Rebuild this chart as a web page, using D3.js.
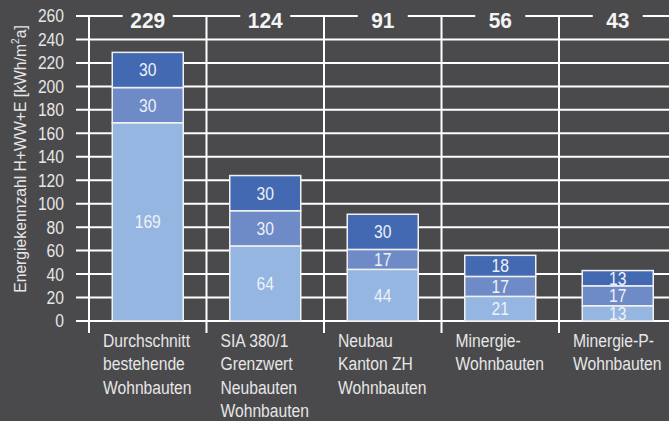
<!DOCTYPE html>
<html>
<head>
<meta charset="utf-8">
<script src="https://cdn.jsdelivr.net/npm/d3@7"></script>
<style>
  body { margin: 0; background: #4a4a4c; }
  svg { display: block; font-family: "Liberation Sans", Arial, sans-serif; }
</style>
</head>
<body>
<div class="Chart"></div>
<script>
// data
var categories = [
  ["Durchschnitt", "bestehende", "Wohnbauten"],
  ["SIA 380/1", "Grenzwert", "Neubauten", "Wohnbauten"],
  ["Neubau", "Kanton ZH", "Wohnbauten"],
  ["Minergie-", "Wohnbauten"],
  ["Minergie-P-", "Wohnbauten"]
];
var bottomValues = [169, 64, 44, 21, 13];
var middleValues = [30, 30, 17, 17, 17];
var topValues = [30, 30, 30, 18, 13];
var yTicks = [0, 20, 40, 60, 80, 100, 120, 140, 160, 180, 200, 220, 240, 260];
var segColors = ["#95b6e0", "#6e8bc7", "#4369b2"];

var width = 669, height = 421;
var bg = "#4a4a4c";
var narrow = 0.87; // fake a condensed face by squeezing Liberation Sans

function sq(px, py, k) {
  return "translate(" + px + "," + py + ") scale(" + (k || narrow) + ",1)";
}

var svg = d3.select(".Chart").append("svg")
            .attr("width", width)
            .attr("height", height);

svg.append("rect").attr("width", width).attr("height", height).attr("fill", bg);

// scales
var x = d3.scaleBand()
          .domain(d3.range(categories.length))
          .range([89, 89 + 117.5 * categories.length]);
var y = d3.scaleLinear().domain([0, 260]).range([321, 16]);

// horizontal grid lines (with ticks poking out left)
svg.append("g").selectAll("line")
   .data(yTicks).enter().append("line")
   .attr("x1", 76).attr("x2", width)
   .attr("y1", function(d){ return y(d); })
   .attr("y2", function(d){ return y(d); })
   .attr("stroke", "white").attr("stroke-width", 2);

// vertical separators
var bounds = d3.range(categories.length + 1).map(function(i){ return 89 + x.bandwidth() * i; });
svg.append("g").selectAll("line")
   .data(bounds).enter().append("line")
   .attr("x1", function(d){ return d; }).attr("x2", function(d){ return d; })
   .attr("y1", 15).attr("y2", 333)
   .attr("stroke", "white").attr("stroke-width", 2);

// y tick labels
svg.append("g").selectAll("text")
   .data(yTicks).enter().append("text")
   .attr("transform", function(d){ return sq(64, y(d)); })
   .attr("dy", "0.36em")
   .attr("text-anchor", "end")
   .attr("font-size", 18)
   .attr("fill", "#e6e6e6")
   .text(function(d){ return d; });

// y axis title
var yt = svg.append("text")
   .attr("text-anchor", "middle")
   .attr("font-size", 17)
   .attr("fill", "#e6e6e6");
yt.append("tspan").text("Energiekennzahl H+WW+E [kWh/m");
yt.append("tspan").attr("font-size", 11).attr("dy", -7).text("2");
yt.append("tspan").attr("dy", 7).text("a]");
var ytLen = yt.node().getComputedTextLength();
yt.attr("transform", "translate(26,159) rotate(-90) scale(" + (268 / ytLen) + ",1)");

// stacked bars
var stackData = categories.map(function(c, i){
  return {i: i, b: bottomValues[i], m: middleValues[i], t: topValues[i]};
});
var series = d3.stack().keys(["b", "m", "t"])(stackData);

var barW = 71;
var bars = svg.append("g");
series.forEach(function(s, k){
  var g = bars.append("g");
  g.selectAll("rect")
   .data(s).enter().append("rect")
   .attr("x", function(d){ return x(d.data.i) + (x.bandwidth() - barW) / 2; })
   .attr("y", function(d){ return y(d[1]); })
   .attr("width", barW)
   .attr("height", function(d){ return y(d[0]) - y(d[1]); })
   .attr("fill", segColors[k])
   .attr("stroke", "#f0f0f0")
   .attr("stroke-width", 1.5);
  g.selectAll("text")
   .data(s).enter().append("text")
   .attr("transform", function(d){
     return sq(x(d.data.i) + x.bandwidth() / 2, (y(d[0]) + y(d[1])) / 2);
   })
   .attr("dy", "0.36em")
   .attr("text-anchor", "middle")
   .attr("font-size", 18)
   .attr("fill", "#eef2f8")
   .text(function(d){ return d[1] - d[0]; });
});

// totals on top
var totals = stackData.map(function(d){ return d.b + d.m + d.t; });
var tg = svg.append("g").selectAll("g")
   .data(totals).enter().append("g")
   .attr("transform", function(d, i){ return "translate(" + (x(i) + x.bandwidth() / 2) + ",20)"; });
tg.append("rect")
  .attr("x", -25).attr("y", -9).attr("width", 50).attr("height", 18)
  .attr("fill", bg);
tg.append("text")
  .attr("transform", "scale(0.95,1)")
  .attr("text-anchor", "middle")
  .attr("y", 8)
  .attr("font-size", 22)
  .attr("font-weight", "bold")
  .attr("fill", "#f4f4f4")
  .text(function(d){ return d; });

// category labels
var cl = svg.append("g").selectAll("text")
   .data(categories).enter().append("text")
   .attr("transform", function(d, i){ return sq(x(i) + 14, 347); })
   .attr("font-size", 18)
   .attr("fill", "#e6e6e6");
cl.selectAll("tspan")
  .data(function(d){ return d; }).enter().append("tspan")
  .attr("x", 0)
  .attr("dy", function(d, j){ return j === 0 ? 0 : 23.5; })
  .text(function(d){ return d; });
</script>
</body>
</html>
